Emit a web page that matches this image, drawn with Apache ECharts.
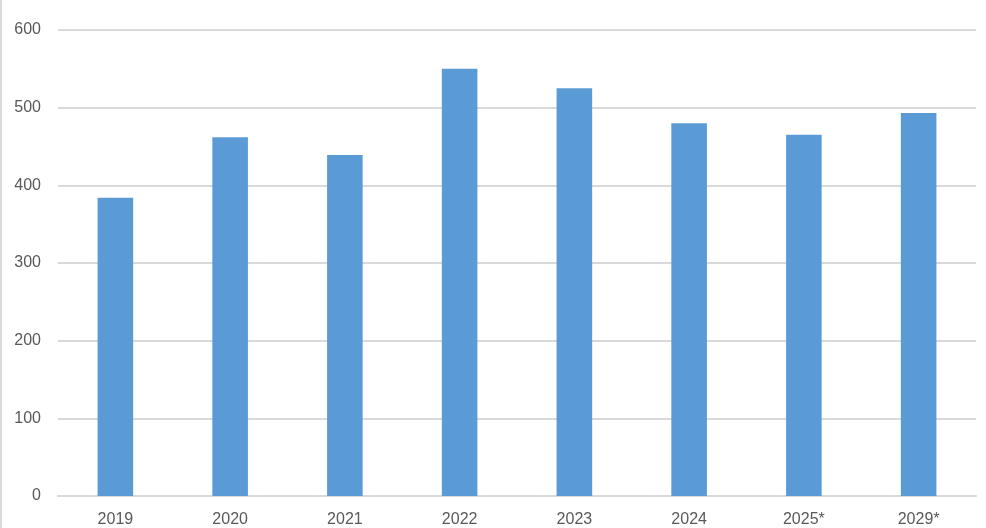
<!DOCTYPE html>
<html>
<head>
<meta charset="utf-8">
<script src="https://cdn.jsdelivr.net/npm/echarts@6/dist/echarts.min.js"></script>
<style>
html,body{margin:0;padding:0;background:#fff;}
#chart{width:986px;height:528px;}
</style>
</head>
<body>
<div id="chart"></div>
<script>
const categories = ['2019', '2020', '2021', '2022', '2023', '2024', '2025*', '2029*'];
const values = [384, 462, 439, 550, 525, 480, 465, 493];
const yTicks = [0, 100, 200, 300, 400, 500, 600];

const chart = echarts.init(document.getElementById('chart'), null, {renderer: 'canvas'});
chart.setOption({
  animation: false,
  backgroundColor: '#ffffff',
  grid: {left: 58, right: 10, top: 30, bottom: 31, containLabel: false},
  graphic: [{
    type: 'line',
    shape: {x1: 1, y1: 0, x2: 1, y2: 528},
    style: {stroke: '#d9d9d9', lineWidth: 2}
  }],
  xAxis: {
    type: 'category',
    data: categories,
    axisLine: {show: true, lineStyle: {color: '#d9d9d9', width: 2}},
    axisTick: {show: false},
    axisLabel: {color: '#595959', fontSize: 16, fontFamily: 'Liberation Sans, Arial, sans-serif', margin: 16}
  },
  yAxis: {
    type: 'value',
    min: yTicks[0],
    max: yTicks[yTicks.length - 1],
    interval: 100,
    axisLine: {show: false},
    axisTick: {show: false},
    splitLine: {lineStyle: {color: '#d9d9d9', width: 2}},
    axisLabel: {color: '#595959', fontSize: 16, fontFamily: 'Liberation Sans, Arial, sans-serif', margin: 17}
  },
  series: [{
    type: 'bar',
    data: values,
    barWidth: '31%',
    itemStyle: {color: '#5b9bd5'}
  }]
});
</script>
</body>
</html>
